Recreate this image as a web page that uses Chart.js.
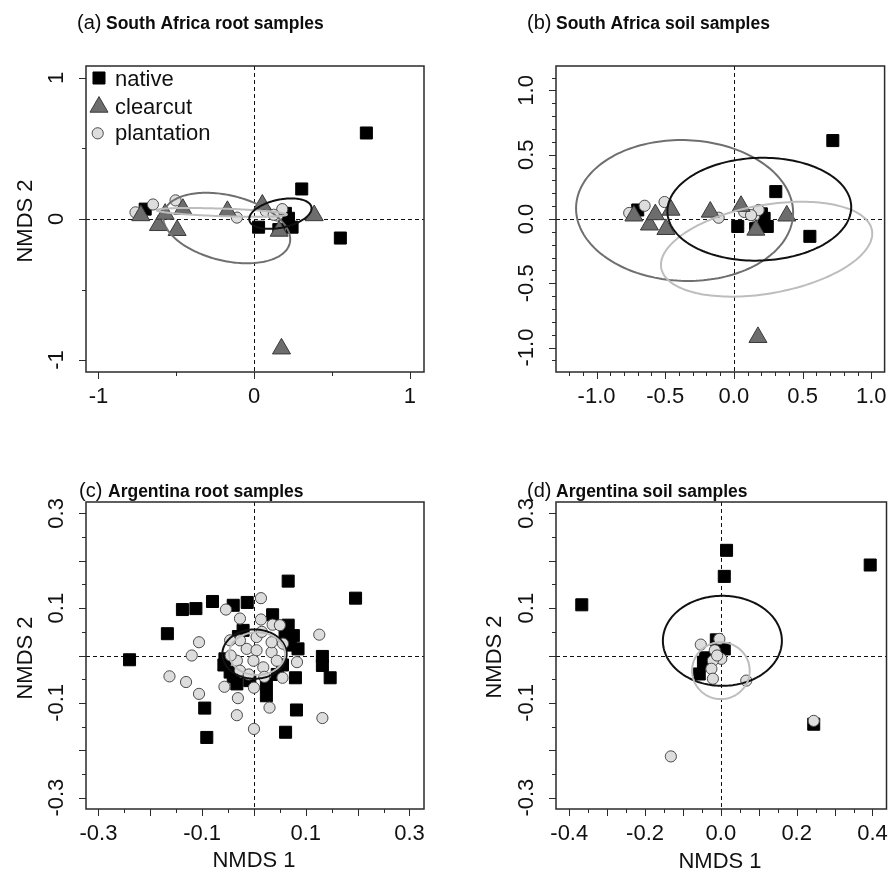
<!DOCTYPE html>
<html>
<head>
<meta charset="utf-8">
<script src="https://cdn.jsdelivr.net/npm/chart.js@4.4.1/dist/chart.umd.min.js"></script>
<style>
  body { margin: 0; background: #fff; }
  #page { position: relative; width: 896px; height: 877px; overflow: hidden; background: #fff; }
  #page canvas { position: absolute; left: 0; top: 0; }
</style>
</head>
<body>
<div id="page">
  <canvas id="cA" width="896" height="877"></canvas>
  <canvas id="cB" width="896" height="877"></canvas>
  <canvas id="cC" width="896" height="877"></canvas>
  <canvas id="cD" width="896" height="877"></canvas>
</div>
<script>
// ---- South Africa ordination (same sample scores appear in both SA panels) ----
const saNativeX     = [0.72, 0.305, 0.553, 0.028, 0.158, 0.22, 0.243, 0.2, -0.70];
const saNativeY     = [0.61, 0.213, -0.135, -0.058, -0.075, 0.005, -0.058, 0.04, 0.07];
const saClearcutX   = [0.175, 0.385, 0.052, -0.172, -0.458, -0.495, -0.615, -0.572, -0.728, 0.16];
const saClearcutY   = [-0.92, 0.025, 0.1, 0.055, 0.07, -0.08, -0.045, 0.035, 0.025, -0.085];
const saPlantationX = [-0.762, -0.65, -0.505, -0.111, 0.075, 0.148, 0.18, 0.125];
const saPlantationY = [0.047, 0.103, 0.132, 0.01, 0.055, 0.025, 0.07, 0.03];

// ellipses: [centreX, centreY, halfWidthX, halfHeightY, skew]
const saRootEllNative     = [0.168, 0.038, 0.2, 0.108, 0.35];
const saRootEllClearcut   = [-0.177, -0.064, 0.408, 0.25, -0.32];
const saRootEllPlantation = [-0.208, 0.047, 0.418, 0.031, -0.5];
const saSoilEllNative     = [0.185, 0.076, 0.669, 0.40, 0.04];
const saSoilEllClearcut   = [-0.359, 0.066, 0.79, 0.548, -0.03];
const saSoilEllPlantation = [0.238, -0.235, 0.769, 0.369, 0.33];

// ---- Argentina root samples ----
const arRootNativeX = [0.066, 0.196, -0.08, -0.013, -0.04, -0.112, -0.138, -0.167, -0.24, -0.095,
  -0.091, 0.061, 0.082, 0.08, 0.147, 0.132, 0.132, 0.036, 0.066, 0.076, 0.085, 0.024, 0.024,
  -0.033, -0.056, -0.046, -0.021, -0.008, 0.063, 0.07, -0.04, 0.045, 0.055, -0.03, 0.06, -0.058];
const arRootNativeY = [0.157, 0.121, 0.114, 0.112, 0.106, 0.099, 0.097, 0.046, -0.009, -0.111,
  -0.173, -0.162, -0.115, -0.047, -0.047, -0.021, -0.002, 0.086, 0.064, 0.042, 0.014, -0.085, -0.06,
  -0.06, -0.007, -0.035, 0.053, -0.053, 0.032, 0.022, -0.045, -0.04, -0.02, 0.04, 0.05, -0.02];
const arRootPlantX = [0.0135, -0.054, -0.027, 0.0135, 0.036, 0.05, 0.126, -0.106, -0.12, -0.163,
  -0.131, -0.106, -0.057, -0.031, -0.033, 0.0, 0.03, 0.0, 0.055, 0.083, 0.132, -0.033, -0.014,
  0.005, 0.018, 0.034, 0.034, 0.005, -0.027, -0.046, -0.027, -0.001, 0.044, 0.056, -0.045, 0.02,
  -0.01, 0.015];
const arRootPlantY = [0.121, 0.097, 0.078, 0.076, 0.065, 0.064, 0.044, 0.028, 0.0, -0.044,
  -0.056, -0.081, -0.066, -0.09, -0.126, -0.155, -0.11, -0.068, -0.047, -0.014, -0.132, -0.011, 0.014,
  0.011, -0.025, 0.007, 0.028, 0.039, 0.032, 0.032, -0.032, -0.011, -0.011, 0.025, 0.0, -0.045,
  -0.04, 0.05];
const arRootEllNative = [0.001, 0.003, 0.062, 0.052, 0.0];
const arRootEllPlant  = [0.006, 0.004, 0.054, 0.045, 0.0];

// ---- Argentina soil samples ----
const arSoilNativeX = [0.015, 0.009, 0.394, -0.367, 0.245, -0.057, -0.046, 0.009, -0.012, -0.04];
const arSoilNativeY = [0.222, 0.167, 0.191, 0.107, -0.145, -0.039, -0.014, 0.014, 0.033, -0.005];
const arSoilPlantX  = [-0.132, 0.245, 0.067, -0.053, -0.004, -0.016, 0.001, -0.021, -0.025, -0.021, -0.01];
const arSoilPlantY  = [-0.213, -0.138, -0.053, 0.023, 0.035, 0.011, -0.007, -0.011, -0.028, -0.049, 0.0];
const arSoilEllNative = [0.004, 0.031, 0.157, 0.095, 0.0];
const arSoilEllPlant  = [0.0, -0.032, 0.076, 0.06, 0.0];

// ---- axis ticks ----
const saRootLong = [-1, 0, 1];
const saRootShort = [-0.5, 0.5];
const saRootLabels = ['-1', '0', '1'];

const saSoilLong = [-1, -0.5, 0, 0.5, 1];
const saSoilLabels = ['-1.0', '-0.5', '0.0', '0.5', '1.0'];
const saSoilShortX = [-1.2, -1.1, -0.9, -0.8, -0.7, -0.6, -0.4, -0.3, -0.2, -0.1, 0.1, 0.2, 0.3, 0.4, 0.6, 0.7, 0.8, 0.9];
const saSoilShortY = [-1.1, -0.9, -0.8, -0.7, -0.6, -0.4, -0.3, -0.2, -0.1, 0.1, 0.2, 0.3, 0.4, 0.6, 0.7, 0.8, 0.9, 1.1];

const arLong3 = [-0.3, -0.2, -0.1, 0, 0.1, 0.2, 0.3];
const arShort3 = [-0.25, -0.15, -0.05, 0.05, 0.15, 0.25];
const arLabelAt3 = [-0.3, -0.1, 0.1, 0.3];
const arLabels3 = ['-0.3', '-0.1', '0.1', '0.3'];
const arLong4 = [-0.4, -0.3, -0.2, -0.1, 0, 0.1, 0.2, 0.3, 0.4];
const arShort4 = [-0.35, -0.25, -0.15, -0.05, 0.05, 0.15, 0.25, 0.35];
const arLabelAt4 = [-0.4, -0.2, 0, 0.2, 0.4];
const arLabels4 = ['-0.4', '-0.2', '0.0', '0.2', '0.4'];

const FONT = '"Liberation Sans", Arial, Helvetica, sans-serif';
const STYLE = {
    native:     { pointStyle: 'rect',     pointRadius: 8.5,  backgroundColor: '#000000', borderColor: '#000000', borderWidth: 1 },
    clearcut:   { pointStyle: 'triangle', pointRadius: 10.4, backgroundColor: '#6d6d6d', borderColor: '#3a3a3a', borderWidth: 1 },
    plantation: { pointStyle: 'circle',   pointRadius: 5.6,  backgroundColor: '#dddddd', borderColor: '#4a4a4a', borderWidth: 1 }
};
const ELL_COLOR = { native: '#111111', clearcut: '#6f6f6f', plantation: '#bdbdbd' };

function pts(xs, ys) {
    return xs.map((x, i) => ({ x: x, y: ys[i] }));
}

function dataset(kind, xs, ys, order) {
    return Object.assign({ label: kind, data: pts(xs, ys), order: order, pointHoverRadius: STYLE[kind].pointRadius }, STYLE[kind]);
}

function drawEllipse(ctx, xs, ys, e, color) {
    const phi = Math.asin(e[4]);
    ctx.save();
    ctx.strokeStyle = color;
    ctx.lineWidth = 2;
    ctx.beginPath();
    for (let i = 0; i <= 180; i++) {
        const t = i / 180 * Math.PI * 2;
        const px = xs.getPixelForValue(e[0] + e[2] * Math.cos(t));
        const py = ys.getPixelForValue(e[1] + e[3] * Math.sin(t + phi));
        if (i === 0) ctx.moveTo(px, py); else ctx.lineTo(px, py);
    }
    ctx.closePath();
    ctx.stroke();
    ctx.restore();
}

const rPanel = {
    id: 'rPanel',
    beforeDatasetsDraw(chart) {
        const ctx = chart.ctx, a = chart.chartArea;
        const xs = chart.scales.x, ys = chart.scales.y;
        ctx.save();
        ctx.strokeStyle = '#111';
        ctx.lineWidth = 1;
        ctx.setLineDash([4, 3]);
        const x0 = Math.round(xs.getPixelForValue(0)) + 0.5;
        const y0 = Math.round(ys.getPixelForValue(0)) + 0.5;
        ctx.beginPath();
        ctx.moveTo(x0, a.top); ctx.lineTo(x0, a.bottom);
        ctx.moveTo(a.left, y0); ctx.lineTo(a.right, y0);
        ctx.stroke();
        ctx.restore();
    },
    afterDatasetsDraw(chart) {
        const p = chart.options.plugins.rPanel;
        const xs = chart.scales.x, ys = chart.scales.y;
        p.ellipses.forEach(e => drawEllipse(chart.ctx, xs, ys, e[1], ELL_COLOR[e[0]]));
    },
    afterDraw(chart) {
        const p = chart.options.plugins.rPanel;
        const ctx = chart.ctx, a = chart.chartArea;
        const xs = chart.scales.x, ys = chart.scales.y;
        ctx.save();
        // box
        ctx.strokeStyle = '#2a2a2a';
        ctx.lineWidth = 1.5;
        ctx.strokeRect(a.left, a.top, a.right - a.left, a.bottom - a.top);
        // ticks
        ctx.lineWidth = 1;
        ctx.beginPath();
        p.xLong.forEach(v => { const x = Math.round(xs.getPixelForValue(v)) + 0.5; ctx.moveTo(x, a.bottom); ctx.lineTo(x, a.bottom + 7); });
        p.xShort.forEach(v => { const x = Math.round(xs.getPixelForValue(v)) + 0.5; ctx.moveTo(x, a.bottom); ctx.lineTo(x, a.bottom + 4); });
        p.yLong.forEach(v => { const y = Math.round(ys.getPixelForValue(v)) + 0.5; ctx.moveTo(a.left, y); ctx.lineTo(a.left - 7, y); });
        p.yShort.forEach(v => { const y = Math.round(ys.getPixelForValue(v)) + 0.5; ctx.moveTo(a.left, y); ctx.lineTo(a.left - 4, y); });
        ctx.stroke();
        // tick labels
        ctx.fillStyle = '#111';
        ctx.font = '22px ' + FONT;
        ctx.textAlign = 'center';
        ctx.textBaseline = 'alphabetic';
        p.xLabelAt.forEach((v, i) => ctx.fillText(p.xLabels[i], xs.getPixelForValue(v), a.bottom + 31));
        p.yLabelAt.forEach((v, i) => {
            ctx.save();
            ctx.translate(a.left - 23, ys.getPixelForValue(v));
            ctx.rotate(-Math.PI / 2);
            ctx.fillText(p.yLabels[i], 0, 0);
            ctx.restore();
        });
        // axis titles
        if (p.xTitle) ctx.fillText(p.xTitle, p.xTitlePos[0], p.xTitlePos[1]);
        if (p.yTitle) {
            ctx.save();
            ctx.translate(p.yTitlePos[0], p.yTitlePos[1]);
            ctx.rotate(-Math.PI / 2);
            ctx.fillText(p.yTitle, 0, 0);
            ctx.restore();
        }
        // panel title
        ctx.textAlign = 'left';
        ctx.fillStyle = '#0d0d0d';
        ctx.font = '20px ' + FONT;
        ctx.fillText(p.tag, p.titlePos[0], p.titlePos[1]);
        ctx.font = 'bold 17.5px ' + FONT;
        ctx.fillText(p.title, p.titlePos[0] + 29, p.titlePos[1]);
        // legend
        if (p.legend) {
            const items = [['native', 'native', 99, 78, 86], ['clearcut', 'clearcut', 99, 107, 114], ['plantation', 'plantation', 97.7, 133.3, 140]];
            items.forEach(it => {
                const s = STYLE[it[0]];
                ctx.fillStyle = s.backgroundColor;
                ctx.strokeStyle = s.borderColor;
                ctx.lineWidth = s.borderWidth;
                Chart.helpers.drawPoint(ctx, { pointStyle: s.pointStyle, radius: s.pointRadius, borderWidth: s.borderWidth, rotation: 0 }, it[2], it[3]);
                ctx.fillStyle = '#111';
                ctx.font = '22px ' + FONT;
                ctx.fillText(it[1], 115, it[4]);
            });
        }
        ctx.restore();
    }
};

function makePanel(id, area, xr, yr, datasets, opts) {
    return new Chart(document.getElementById(id), {
        type: 'scatter',
        data: { datasets: datasets },
        options: {
            responsive: false,
            animation: false,
            events: [],
            layout: { padding: { left: area[0], top: area[1], right: 896 - area[2], bottom: 877 - area[3] } },
            scales: {
                x: { type: 'linear', min: xr[0], max: xr[1], display: false },
                y: { type: 'linear', min: yr[0], max: yr[1], display: false }
            },
            plugins: { legend: { display: false }, tooltip: { enabled: false }, rPanel: opts }
        },
        plugins: [rPanel]
    });
}

function saSets() {
    return [
        dataset('clearcut', saClearcutX, saClearcutY, 1),
        dataset('plantation', saPlantationX, saPlantationY, 2),
        dataset('native', saNativeX, saNativeY, 3)
    ];
}

makePanel('cA', [86, 66, 424, 372], [-1.08, 1.09], [-1.085, 1.085], saSets(), {
    tag: '(a)', title: 'South Africa root samples', titlePos: [77, 29],
    xLong: saRootLong, xShort: saRootShort, xLabelAt: saRootLong, xLabels: saRootLabels,
    yLong: saRootLong, yShort: saRootShort, yLabelAt: saRootLong, yLabels: saRootLabels,
    yTitle: 'NMDS 2', yTitlePos: [32, 221], legend: true,
    ellipses: [['clearcut', saRootEllClearcut], ['plantation', saRootEllPlantation], ['native', saRootEllNative]]
});

makePanel('cB', [556, 66, 894, 372], [-1.295, 1.097], [-1.19, 1.19], saSets(), {
    tag: '(b)', title: 'South Africa soil samples', titlePos: [527, 29],
    xLong: saSoilLong, xShort: saSoilShortX, xLabelAt: saSoilLong, xLabels: saSoilLabels,
    yLong: saSoilLong, yShort: saSoilShortY, yLabelAt: saSoilLong, yLabels: saSoilLabels,
    ellipses: [['clearcut', saSoilEllClearcut], ['plantation', saSoilEllPlantation], ['native', saSoilEllNative]]
});

makePanel('cC', [86, 502, 424, 809], [-0.324, 0.328], [-0.324, 0.324], [
    dataset('plantation', arRootPlantX, arRootPlantY, 1),
    dataset('native', arRootNativeX, arRootNativeY, 2)
], {
    tag: '(c)', title: 'Argentina root samples', titlePos: [79, 497],
    xLong: arLong3, xShort: arShort3, xLabelAt: arLabelAt3, xLabels: arLabels3,
    yLong: arLong3, yShort: arShort3, yLabelAt: arLabelAt3, yLabels: arLabels3,
    xTitle: 'NMDS 1', xTitlePos: [254, 867], yTitle: 'NMDS 2', yTitlePos: [32, 658],
    ellipses: [['native', arRootEllNative], ['plantation', arRootEllPlant]]
});

makePanel('cD', [556, 502, 894, 809], [-0.435, 0.437], [-0.324, 0.324], [
    dataset('plantation', arSoilPlantX, arSoilPlantY, 1),
    dataset('native', arSoilNativeX, arSoilNativeY, 2)
], {
    tag: '(d)', title: 'Argentina soil samples', titlePos: [527, 497],
    xLong: arLong4, xShort: arShort4, xLabelAt: arLabelAt4, xLabels: arLabels4,
    yLong: arLong3, yShort: arShort3, yLabelAt: arLabelAt3, yLabels: arLabels3,
    xTitle: 'NMDS 1', xTitlePos: [720, 868], yTitle: 'NMDS 2', yTitlePos: [501, 657],
    ellipses: [['native', arSoilEllNative], ['plantation', arSoilEllPlant]]
});
</script>
</body>
</html>
